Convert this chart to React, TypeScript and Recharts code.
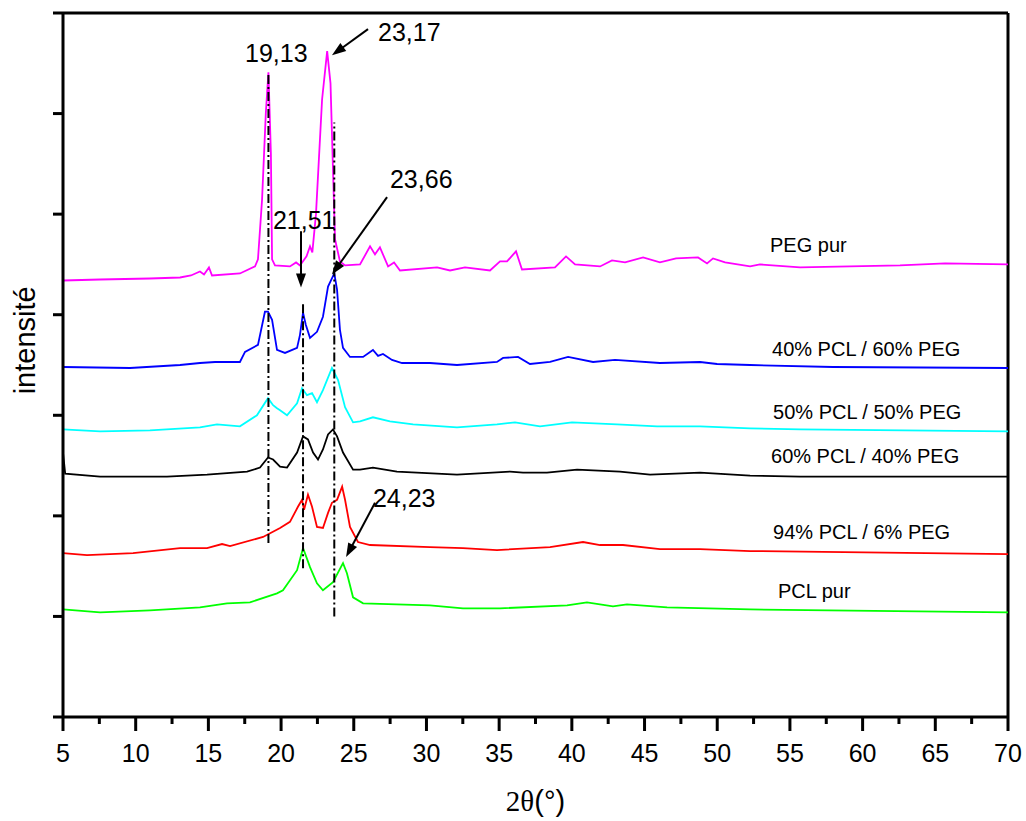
import React from 'react';
import { LineChart, Line, XAxis, YAxis, ReferenceLine, ReferenceDot } from 'recharts';

const FONT = '"Liberation Sans", Arial, Helvetica, sans-serif';

const xTicks = [5, 7.5, 10, 12.5, 15, 17.5, 20, 22.5, 25, 27.5, 30, 32.5, 35, 37.5, 40, 42.5, 45, 47.5, 50, 52.5, 55, 57.5, 60, 62.5, 65, 67.5, 70];
const xMajorLabels = [5, 10, 15, 20, 25, 30, 35, 40, 45, 50, 55, 60, 65, 70];
const yTicks = [0, 1, 2, 3, 4, 5, 6, 7];

const pegPur: [number, number][] = [
  [5, 4.34], [7.55, 4.35], [10.98, 4.36], [13.05, 4.37], [13.8, 4.39], [14.42, 4.43], [14.7, 4.40], [15.04, 4.47], [15.25, 4.39],
  [17.17, 4.41], [18.21, 4.48], [18.41, 4.55], [18.69, 5.14], [18.95, 6.0], [19.13, 6.41], [19.3, 5.6], [19.38, 4.55], [19.58, 4.49],
  [20.61, 4.48], [21.03, 4.52], [21.3, 4.49], [21.75, 4.58], [21.99, 4.68], [22.15, 4.62], [22.4, 5.0], [22.82, 6.14], [23.17, 6.62],
  [23.4, 6.3], [23.71, 4.75], [24.05, 4.53], [24.4, 4.49], [25.43, 4.5], [26.12, 4.68], [26.46, 4.6], [26.8, 4.67], [27.36, 4.48],
  [27.77, 4.52], [28.18, 4.44], [30.73, 4.47], [31.62, 4.44], [32.65, 4.47], [34.37, 4.44], [35.06, 4.53], [35.54, 4.53], [36.16, 4.63],
  [36.57, 4.45], [38.84, 4.47], [39.6, 4.58], [40.22, 4.5], [41.94, 4.48], [42.76, 4.54], [43.66, 4.52], [44.9, 4.57], [46.06, 4.52],
  [47.17, 4.56], [48.68, 4.57], [49.3, 4.51], [49.71, 4.56], [50.54, 4.52], [52.26, 4.48], [52.94, 4.5], [55.7, 4.47], [59.13, 4.48],
  [62.57, 4.49], [65.67, 4.51], [70, 4.5],
];

const pcl40peg60: [number, number][] = [
  [5, 3.48], [9.61, 3.47], [13.05, 3.5], [14.42, 3.52], [15.46, 3.53], [17.17, 3.53], [17.52, 3.63], [18.41, 3.7], [18.89, 4.03],
  [19.1, 4.03], [19.38, 3.95], [19.72, 3.65], [20.27, 3.62], [21.1, 3.67], [21.3, 3.8], [21.51, 4.02], [21.7, 3.9], [21.99, 3.77],
  [22.47, 3.83], [22.88, 3.98], [23.23, 4.28], [23.66, 4.41], [23.85, 4.25], [24.05, 3.85], [24.26, 3.67], [24.74, 3.58], [25.64, 3.58],
  [26.32, 3.65], [26.67, 3.59], [27.01, 3.61], [27.63, 3.55], [28.32, 3.52], [30.24, 3.52], [32.1, 3.5], [34.85, 3.53], [35.27, 3.57],
  [36.3, 3.58], [37.12, 3.51], [38.5, 3.53], [39.74, 3.58], [41.46, 3.53], [42.97, 3.55], [46.06, 3.52], [48.82, 3.53], [49.99, 3.51],
  [52.26, 3.5], [57.96, 3.48], [70, 3.47],
];

const pcl50peg50: [number, number][] = [
  [5, 2.86], [7.55, 2.84], [10.98, 2.85], [14.42, 2.88], [15.59, 2.91], [17.17, 2.89], [18.34, 3.0], [19.1, 3.17], [19.45, 3.1],
  [19.72, 3.07], [19.93, 3.05], [20.41, 3.0], [21.1, 3.12], [21.44, 3.27], [21.78, 3.2], [22.13, 3.22], [22.47, 3.13], [22.88, 3.25],
  [23.5, 3.47], [23.92, 3.35], [24.4, 3.08], [24.95, 2.93], [25.43, 2.94], [26.32, 2.98], [27.49, 2.94], [29.08, 2.91], [32.1, 2.88],
  [34.85, 2.91], [36.09, 2.93], [37.81, 2.89], [40.01, 2.93], [43.11, 2.91], [45.86, 2.89], [48.82, 2.89], [52.26, 2.87], [55.7, 2.86],
  [70, 2.84],
];

const pcl60peg40: [number, number][] = [
  [5, 2.63], [5.15, 2.42], [7.55, 2.39], [12.15, 2.39], [14.91, 2.41], [17.66, 2.44], [18.55, 2.48], [19.1, 2.58], [19.45, 2.56],
  [19.93, 2.49], [20.41, 2.48], [21.1, 2.63], [21.51, 2.79], [21.85, 2.76], [22.2, 2.63], [22.54, 2.56], [22.88, 2.66], [23.23, 2.81],
  [23.57, 2.86], [23.85, 2.79], [24.26, 2.63], [24.95, 2.46], [25.43, 2.46], [26.32, 2.48], [27.97, 2.44], [32.1, 2.41], [35.75, 2.44],
  [36.64, 2.43], [38.29, 2.43], [40.36, 2.46], [43.31, 2.44], [45.38, 2.41], [48.82, 2.43], [52.26, 2.4], [55.7, 2.39], [70, 2.39],
];

const pcl94peg6: [number, number][] = [
  [5, 1.63], [6.65, 1.61], [9.82, 1.63], [13.05, 1.68], [14.91, 1.68], [15.94, 1.72], [16.49, 1.7], [18.76, 1.79], [19.93, 1.88],
  [20.61, 1.94], [21.16, 2.09], [21.44, 2.16], [21.58, 2.06], [21.85, 2.21], [22.13, 2.09], [22.47, 1.89], [22.88, 1.88], [23.23, 2.03],
  [23.5, 2.13], [23.85, 2.16], [24.2, 2.29], [24.4, 2.16], [24.74, 1.89], [25.29, 1.74], [26.12, 1.71], [30.24, 1.69], [32.51, 1.68],
  [34.85, 1.66], [38.5, 1.69], [40.77, 1.74], [41.94, 1.71], [43.52, 1.71], [46.06, 1.67], [48.82, 1.67], [52.26, 1.65], [70, 1.62],
];

const pclPur: [number, number][] = [
  [5, 1.07], [7.55, 1.04], [10.98, 1.06], [14.42, 1.09], [16.28, 1.13], [17.86, 1.14], [19.72, 1.23], [20.13, 1.26], [21.1, 1.46],
  [21.51, 1.68], [21.99, 1.49], [22.47, 1.33], [22.88, 1.26], [23.57, 1.34], [24.26, 1.53], [24.53, 1.43], [24.95, 1.19], [25.64, 1.13],
  [30.24, 1.11], [32.51, 1.08], [35.06, 1.08], [39.67, 1.11], [41.04, 1.14], [42.83, 1.1], [43.79, 1.12], [46.55, 1.09], [52.26, 1.07],
  [70, 1.04],
];

const seriesNames = ['PEG pur', '40% PCL / 60% PEG', '50% PCL / 50% PEG', '60% PCL / 40% PEG', '94% PCL / 6% PEG', 'PCL pur'];
const seriesColors = ['#FF00FF', '#0000FF', '#00FFFF', '#000000', '#FF0000', '#00FF00'];
const seriesData = [pegPur, pcl40peg60, pcl50peg50, pcl60peg40, pcl94peg6, pclPur];
const seriesLabelPos: [number, number][] = [
  [53.63, 4.62], [53.77, 3.59], [53.84, 2.96], [53.7, 2.53], [53.84, 1.77], [54.18, 1.18],
];

const peakLines = [
  { x: 19.13, y1: 1.73, y2: 6.41 },
  { x: 21.51, y1: 1.48, y2: 4.13 },
  { x: 23.66, y1: 1.0, y2: 5.91 },
];

const peakLabels = [
  { text: '19,13', x: 17.52, y: 6.51 },
  { text: '23,17', x: 26.67, y: 6.72 },
  { text: '21,51', x: 19.44, y: 4.85 },
  { text: '23,66', x: 27.49, y: 5.26 },
  { text: '24,23', x: 26.32, y: 2.09 },
];

const arrows = [
  { x1: 25.98, y1: 6.84, x2: 23.5, y2: 6.58 },
  { x1: 21.37, y1: 4.83, x2: 21.37, y2: 4.27 },
  { x1: 27.29, y1: 5.17, x2: 23.5, y2: 4.4 },
  { x1: 26.46, y1: 2.13, x2: 24.47, y2: 1.59 },
];

const XTick = (props: any) => {
  const { x, y, payload } = props;
  const major = xMajorLabels.includes(payload.value);
  return (
    <g>
      <line x1={x} y1={y} x2={x} y2={y + (major ? 14 : 7)} stroke="#000" strokeWidth={3} />
      {major && (
        <text x={x} y={y + 45} textAnchor="middle" fontSize={25} fontFamily={FONT} fill="#000">
          {payload.value}
        </text>
      )}
    </g>
  );
};

const YTick = (props: any) => {
  const { x, y } = props;
  return <line x1={x - 10} y1={y} x2={x} y2={y} stroke="#000" strokeWidth={3} />;
};

const ArrowShape = (props: any) => {
  const { x1, y1, x2, y2 } = props;
  const dx = x2 - x1;
  const dy = y2 - y1;
  const len = Math.hypot(dx, dy) || 1;
  const ux = dx / len;
  const uy = dy / len;
  const hl = 14;
  const hw = 5;
  const bx = x2 - ux * hl;
  const by = y2 - uy * hl;
  const pts = `${x2},${y2} ${bx - uy * hw},${by + ux * hw} ${bx + uy * hw},${by - ux * hw}`;
  return (
    <g>
      <line x1={x1} y1={y1} x2={bx + ux * 2} y2={by + uy * 2} stroke="#000" strokeWidth={2} />
      <polygon points={pts} fill="#000" />
    </g>
  );
};

const makeTextShape = (text: string, size: number) => (props: any) => (
  <text x={props.cx} y={props.cy} fontSize={size} fontFamily={FONT} fill="#000" textAnchor="start">
    {text}
  </text>
);

const XTitle = (props: any) => {
  const vb = props.viewBox || { x: 63, y: 717, width: 945, height: 104 };
  return (
    <text x={vb.x + vb.width / 2} y={vb.y + 94} textAnchor="middle" fontSize={29} fill="#000">
      <tspan fontFamily='"Liberation Serif", "Times New Roman", serif'>2θ</tspan>
      <tspan fontFamily={FONT}>(°)</tspan>
    </text>
  );
};

const YTitle = (props: any) => {
  const vb = props.viewBox || { x: 0, y: 13, width: 63, height: 704 };
  const cx = vb.x + 35;
  const cy = vb.y + vb.height * 0.465;
  return (
    <text x={cx} y={cy} transform={`rotate(-90, ${cx}, ${cy})`} textAnchor="middle" fontSize={29} fontFamily={FONT} fill="#000">
      intensité
    </text>
  );
};

export default function App() {
  return (
    <div style={{ position: 'absolute', left: 0, top: 0, background: '#fff' }}>
      <LineChart width={1026} height={821} margin={{ top: 13, right: 18, bottom: 0, left: 0 }}>
        <XAxis
          dataKey="x"
          type="number"
          domain={[5, 70]}
          ticks={xTicks}
          interval={0}
          allowDataOverflow
          height={104}
          tickSize={0}
          tickMargin={0}
          tickLine={false}
          tick={<XTick />}
          axisLine={{ stroke: '#000', strokeWidth: 3 }}
          label={<XTitle />}
        />
        <YAxis
          type="number"
          domain={[0, 7]}
          ticks={yTicks}
          interval={0}
          allowDataOverflow
          width={63}
          tickSize={0}
          tickMargin={0}
          tickLine={false}
          tick={<YTick />}
          axisLine={{ stroke: '#000', strokeWidth: 3 }}
          label={<YTitle />}
        />
        <ReferenceLine x={70} stroke="#000" strokeWidth={3} />
        <ReferenceLine y={7} stroke="#000" strokeWidth={3} />
        {seriesData.map((d, i) => (
          <Line
            key={seriesNames[i]}
            data={d.map(([x, y]) => ({ x, y }))}
            dataKey="y"
            type="linear"
            stroke={seriesColors[i]}
            strokeWidth={1.8}
            dot={false}
            isAnimationActive={false}
          />
        ))}
        {peakLines.map((p) => (
          <ReferenceLine
            key={`pl${p.x}`}
            segment={[{ x: p.x, y: p.y1 }, { x: p.x, y: p.y2 }]}
            stroke="#000"
            strokeWidth={2}
            strokeDasharray="9 3 2 3"
          />
        ))}
        {arrows.map((a, i) => (
          <ReferenceLine
            key={`ar${i}`}
            segment={[{ x: a.x1, y: a.y1 }, { x: a.x2, y: a.y2 }]}
            shape={ArrowShape}
          />
        ))}
        {peakLabels.map((l) => (
          <ReferenceDot key={l.text} x={l.x} y={l.y} r={1} shape={makeTextShape(l.text, 25)} />
        ))}
        {seriesNames.map((n, i) => (
          <ReferenceDot key={`sl${n}`} x={seriesLabelPos[i][0]} y={seriesLabelPos[i][1]} r={1} shape={makeTextShape(n, 20)} />
        ))}
      </LineChart>
    </div>
  );
}
